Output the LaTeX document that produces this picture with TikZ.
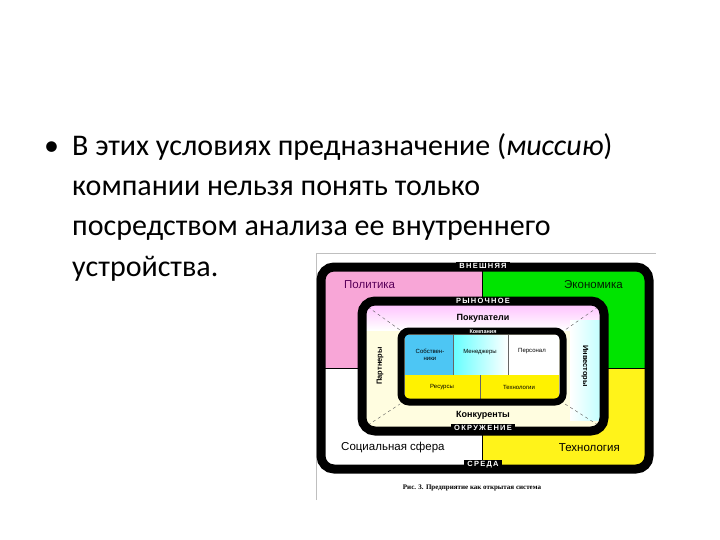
\documentclass[tikz,border=0pt]{standalone}
\usepackage{fontspec}
\setmainfont{Carlito}
\newfontfamily\dsans{Liberation Sans}
\newfontfamily\dserif{Liberation Serif}
\begin{document}
\begin{tikzpicture}[x=1pt,y=-1pt,
  bodytxt/.style={anchor=base west,font=\fontsize{30}{32}\selectfont,inner sep=0},
  band/.style={font=\dsans\bfseries\fontsize{7.5}{8}\selectfont,text=white,fill=black,inner xsep=3pt,inner ysep=1.5pt},
  big/.style={font=\dsans\fontsize{11.5}{12}\selectfont,inner sep=0},
  mid/.style={font=\dsans\bfseries\fontsize{9}{10}\selectfont,inner sep=0},
  small/.style={font=\dsans\fontsize{6}{7}\selectfont,inner sep=0,align=center},
  blk/.style={draw=black,line width=9pt,rounded corners=13pt}]
\useasboundingbox (0,0) rectangle (720,540);
% bullet text
\node[bodytxt] (b) at (44,156) {•};
\node[bodytxt] (l1) at (72,156) {В этих условиях предназначение (\textit{миссию})};
\node[bodytxt] (l2) at (72,196) {компании нельзя понять только};
\node[bodytxt] (l3) at (72,236) {посредством анализа ее внутреннего};
\node[bodytxt] (l4) at (72,276) {устройства.};
% picture frame
\draw[gray!50,line width=0.8pt] (316,500) -- (316,253) -- (656,253);
% outer quadrants
\fill[magenta!35] (324,268) rectangle (482,368);
\fill[green!85!black!70!green] (482,268) rectangle (646,368);
\fill[white] (324,368) rectangle (482,470);
\fill[yellow!90] (482,368) rectangle (646,470);
\draw[black,line width=1pt] (482,268) -- (482,470);
\draw[black,line width=1pt] (324,368) -- (646,368);
\draw[blk] (321,267) rectangle (649,469);
\node[band] (vn) at (483,266) {В\,Н\,Е\,Ш\,Н\,Я\,Я};
\node[band] (sr) at (483,465) {С\,Р\,Е\,Д\,А};
\node[big,text=violet!70!black,anchor=west] (pol) at (344,285) {Политика};
\node[big,text=black!70!green!40!black,anchor=east] (eco) at (623,285) {Экономика};
\node[big,anchor=west] (soc) at (341,448) {Социальная сфера};
\node[big,anchor=east] (tec) at (620,448) {Технология};
% middle
\fill[yellow!12] (364,303) rectangle (602,431);
\shade[top color=magenta!25,bottom color=white] (364,303) rectangle (602,330);
\shade[left color=white,right color=cyan!25] (570,320) rectangle (602,420);
\coordinate (m1) at (368,307); \coordinate (m2) at (598,307);
\coordinate (m3) at (368,425); \coordinate (m4) at (598,425);
\coordinate (i1) at (400,330); \coordinate (i2) at (565,330);
\coordinate (i3) at (400,404); \coordinate (i4) at (565,404);
\draw[dashed,gray!70!black,line width=0.4pt] (m1)--(i1) (m2)--(i2) (m3)--(i3) (m4)--(i4);
\draw[blk] (362,301) rectangle (604,431);
\node[band] (ry) at (483,301) {Р\,Ы\,Н\,О\,Ч\,Н\,О\,Е};
\node[band] (ok) at (483,428) {О\,К\,Р\,У\,Ж\,Е\,Н\,И\,Е};
\node[mid] (pok) at (483,318) {Покупатели};
\node[mid] (kon) at (483,415) {Конкуренты};
\node[mid,font=\dsans\bfseries\fontsize{7.5}{8}\selectfont,rotate=90] (par) at (380,366) {Партнеры};
\node[mid,font=\dsans\bfseries\fontsize{7.5}{8}\selectfont,rotate=-90] (inv) at (585,366) {Инвесторы};
% inner
\fill[cyan!70!white] (405,335) rectangle (453,375);
\shade[left color=cyan!60,right color=white] (453,335) rectangle (508,375);
\fill[white] (508,335) rectangle (559,375);
\fill[yellow] (405,375) rectangle (559,400);
\draw[black!60,line width=0.5pt] (453,335)--(453,375) (508,335)--(508,375) (480,375)--(480,400);
\draw[black,line width=7pt,rounded corners=8pt] (401,331) rectangle (563,402);
\node[band,font=\dsans\bfseries\fontsize{5.5}{6}\selectfont,inner ysep=0.5pt] (kom) at (483,332) {Компания};
\node[small] (sob) at (430,355) {Собствен-\\ники};
\node[small] (men) at (480,352) {Менеджеры};
\node[small] (per) at (532,351) {Персонал};
\node[small] (res) at (442,387) {Ресурсы};
\node[small] (teh) at (519,387) {Технологии};
% caption
\node[font=\dserif\bfseries\fontsize{7}{8}\selectfont,inner sep=0] (cap) at (472,488) {Рис. 3. Предприятие как открытая система};
\end{tikzpicture}
\end{document}
